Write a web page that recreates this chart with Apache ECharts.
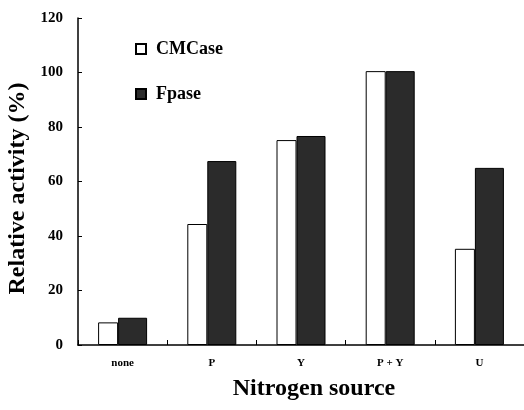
<!DOCTYPE html>
<html><head><meta charset="utf-8">
<script src="https://cdn.jsdelivr.net/npm/echarts@6/dist/echarts.min.js"></script>
<style>html,body{margin:0;padding:0;background:#fff}#c{width:524px;height:410px}</style>
</head><body><div id="c"></div>
<script>
var categories = ['none', 'P', 'Y', 'P + Y', 'U'];
var cmcase = [8.3, 44.4, 75.2, 100.5, 35.3];
var fpase = [10, 67.5, 76.7, 100.5, 65];
var yTicks = [0, 20, 40, 60, 80, 100, 120];
var serif = '"Liberation Serif","DejaVu Serif",serif';
var chart = echarts.init(document.getElementById('c'), null, {renderer: 'canvas'});
chart.setOption({
  animation: false,
  backgroundColor: '#fff',
  textStyle: {fontFamily: serif},
  grid: {left: 78, right: 0, top: 18, bottom: 65, containLabel: false, outerBoundsMode: 'none'},
  legend: {
    orient: 'vertical', left: 130, top: 35, itemWidth: 10, itemHeight: 10, itemGap: 27,
    textStyle: {fontFamily: serif, fontWeight: 'bold', fontSize: 18, color: '#000', padding: [0, 0, 0, 5]},
    data: [{name: 'CMCase', icon: 'rect'}, {name: 'Fpase', icon: 'rect'}]
  },
  xAxis: {
    type: 'category', data: categories,
    axisLine: {lineStyle: {color: '#000', width: 1.5}},
    axisTick: {show: true, inside: true, length: 5, lineStyle: {color: '#000'}},
    axisLabel: {fontFamily: serif, fontWeight: 'bold', fontSize: 11, color: '#000', margin: 13},
    name: 'Nitrogen source', nameLocation: 'middle', nameGap: 32,
    nameTextStyle: {fontFamily: serif, fontWeight: 'bold', fontSize: 24, color: '#000', padding: [0, 0, 0, 26]}
  },
  yAxis: {
    type: 'value', min: yTicks[0], max: yTicks[yTicks.length - 1], interval: 20,
    axisLine: {show: true, lineStyle: {color: '#000', width: 1.5}},
    axisTick: {show: true, inside: true, length: 4, lineStyle: {color: '#000'}},
    splitLine: {show: false},
    axisLabel: {fontFamily: serif, fontWeight: 'bold', fontSize: 15, color: '#000', margin: 15},
    name: 'Relative activity (%)', nameLocation: 'middle', nameGap: 38, nameRotate: 90,
    nameTextStyle: {fontFamily: serif, fontWeight: 'bold', fontSize: 24, color: '#000', padding: [0, 14, 0, 0]}
  },
  series: [
    {name: 'CMCase', type: 'bar', data: cmcase, barWidth: 20, barGap: '0%',
     itemStyle: {color: '#fff', borderColor: '#000', borderWidth: 1}},
    {name: 'Fpase', type: 'bar', data: fpase, barWidth: 29, barGap: '0%',
     itemStyle: {color: '#2b2b2b', borderColor: '#000', borderWidth: 1}}
  ]
});
</script></body></html>
